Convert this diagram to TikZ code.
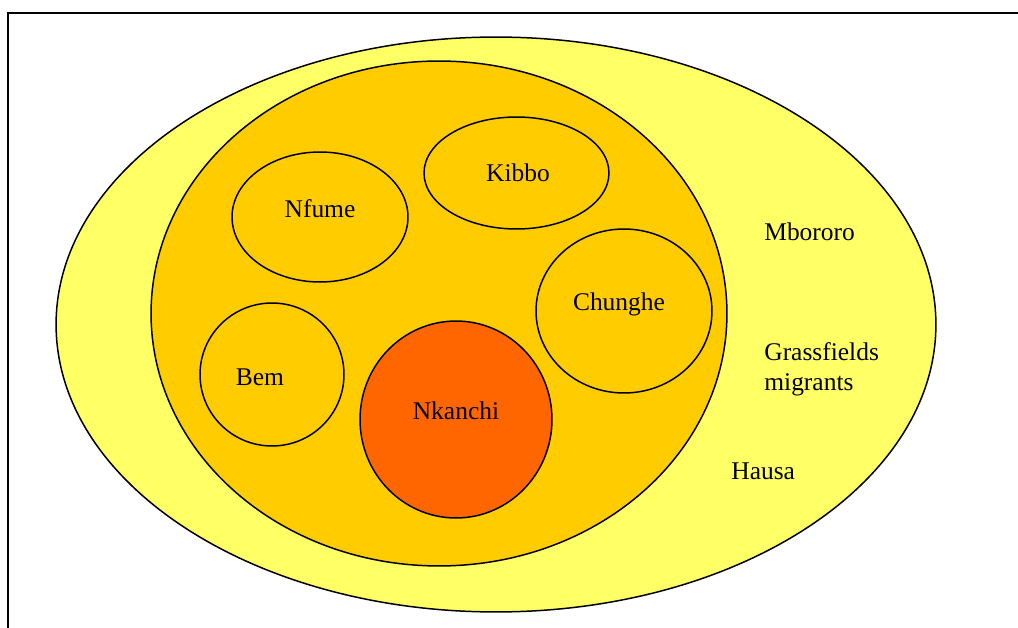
\documentclass[tikz,border=0pt]{standalone}
\usepackage{fontspec}
\setmainfont{Liberation Serif}
\usetikzlibrary{shapes.geometric}

\definecolor{paleyellow}{HTML}{FFFF66}
\definecolor{amber}{HTML}{FFCC00}
\definecolor{hotorange}{HTML}{FF6600}

\begin{document}
\begin{tikzpicture}[x = 0.02cm, y = -0.02cm, font = \fontsize{14.5}{17}\selectfont,
	group/.style = {ellipse, draw, line width = 0.85pt, inner sep = 0pt},
	tag/.style = {inner sep = 0pt, anchor = base}]

\useasboundingbox (0,0) rectangle (1018,628);

% frame
\coordinate (fb) at (8,628);
\coordinate (fc) at (8,13);
\coordinate (fr) at (1018,13);
\draw[line width = 1.2pt] (fb) -- (fc) -- (fr);

% regions
\node[group, fill = paleyellow, minimum width = 17.6cm, minimum height = 11.5cm]	(outer)		at (496,324.5)	{};
\node[group, fill = amber, minimum width = 11.52cm, minimum height = 10.1cm]		(inner)		at (439,313.5)	{};
\node[group, fill = amber, minimum width = 3.52cm, minimum height = 2.6cm]		(nfume)		at (320,217)	{};
\node[group, fill = amber, minimum width = 3.7cm, minimum height = 2.24cm]		(kibbo)		at (516.5,173)	{};
\node[group, fill = amber, minimum width = 3.52cm, minimum height = 3.28cm]		(chunghe)	at (624,311)	{};
\node[group, fill = amber, minimum width = 2.88cm, minimum height = 2.86cm]		(bem)		at (272,374.5)	{};
\node[group, fill = hotorange, minimum width = 3.84cm, minimum height = 3.94cm]	(nkanchi)	at (456,419.5)	{};

% labels
\node[tag]						(lnfume)	at (320,218)	{Nfume};
\node[tag]						(lkibbo)	at (518,182)	{Kibbo};
\node[tag]						(lchunghe)	at (619,311)	{Chunghe};
\node[tag]						(lbem)		at (260,385)	{Bem};
\node[tag]						(lnkanchi)	at (456,419)	{Nkanchi};
\node[tag, anchor = base west]			(lmbororo)	at (764,241)	{Mbororo};
\node[tag, anchor = base west, align = left]	(lgrass)	at (764,390)	{Grassfields\\migrants};
\node[tag, anchor = base west]			(lhausa)	at (731,479)	{Hausa};

\end{tikzpicture}
\end{document}
